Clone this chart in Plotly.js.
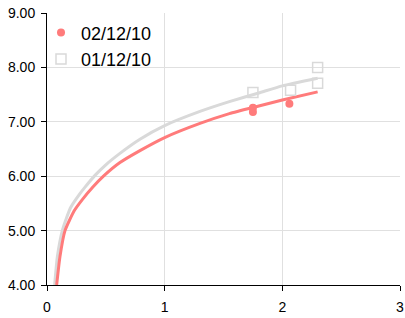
<!DOCTYPE html>
<html><head><meta charset="utf-8">
<script src="https://cdn.plot.ly/plotly-3.0.1.min.js"></script>
<style>html,body{margin:0;padding:0;background:#fff}</style>
</head><body><div id="chart" style="width:405px;height:318px"></div>
<script>
// Trend curve readings
const redCurveX = [0.082,0.11,0.153,0.23,0.30,0.39,0.48,0.62,0.79,1.0,1.3,1.55,1.8,2.0,2.3];
const redCurveY = [4.00,4.52,5.00,5.36,5.57,5.80,6.00,6.25,6.47,6.71,6.97,7.15,7.29,7.40,7.55];
const greyCurveX = [0.065,0.088,0.133,0.20,0.28,0.32,0.41,0.50,0.62,0.79,1.0,1.3,1.55,1.8,2.0,2.3];
const greyCurveY = [4.00,4.52,5.02,5.42,5.68,5.79,6.02,6.21,6.42,6.68,6.93,7.19,7.37,7.53,7.66,7.80];
// Data points
const redPointsX = [1.75,1.75,2.06];
const redPointsY = [7.26,7.18,7.33];
const greyPointsX = [1.75,2.07,2.30,2.30];
const greyPointsY = [7.54,7.58,8.00,7.71];
const seriesNames = ['02/12/10','01/12/10'];
const redColor = '#ff7b7b', greyColor = '#d9d9d9';

const data = [
  {x: greyCurveX, y: greyCurveY, mode:'lines', line:{color:greyColor,width:3,shape:'spline',smoothing:0.5}, showlegend:false, hoverinfo:'skip'},
  {x: redCurveX, y: redCurveY, mode:'lines', line:{color:redColor,width:3,shape:'spline',smoothing:0.5}, showlegend:false, hoverinfo:'skip'},
  {x: redPointsX, y: redPointsY, mode:'markers', name: seriesNames[0], marker:{symbol:'circle',size:8,color:redColor}},
  {x: greyPointsX, y: greyPointsY, mode:'markers', name: seriesNames[1], marker:{symbol:'square-open',size:10,color:greyColor,line:{width:1.5}}}
];
const layout = {
  width:405, height:318,
  margin:{l:47,r:5,t:13,b:33},
  paper_bgcolor:'#fff', plot_bgcolor:'#fff',
  font:{family:'Liberation Sans, Arial, sans-serif', color:'#000', size:14},
  xaxis:{range:[0,3], tickvals:[0,1,2,3], ticktext:['0','1','2','3'], showgrid:true, gridcolor:'#e0e0e0',
    showline:true, linecolor:'#000', linewidth:1, ticks:'outside', ticklen:5, tickcolor:'#000', zeroline:false,
    tickfont:{size:14}, ticklabelstandoff:4},
  yaxis:{range:[4,9], tickvals:[4,5,6,7,8,9], ticktext:['4.00','5.00','6.00','7.00','8.00','9.00'], showgrid:true, gridcolor:'#e0e0e0',
    showline:true, linecolor:'#000', linewidth:1, ticks:'outside', ticklen:5, tickcolor:'#000', zeroline:false,
    tickfont:{size:14}, ticklabelstandoff:3},
  showlegend:true,
  legend:{x:-0.017, y:0.995, xanchor:'left', yanchor:'top', bgcolor:'rgba(255,255,255,0)', font:{size:18}, tracegroupgap:0, itemwidth:30}
};
Plotly.newPlot('chart', data, layout, {displayModeBar:false, staticPlot:true});
</script></body></html>
